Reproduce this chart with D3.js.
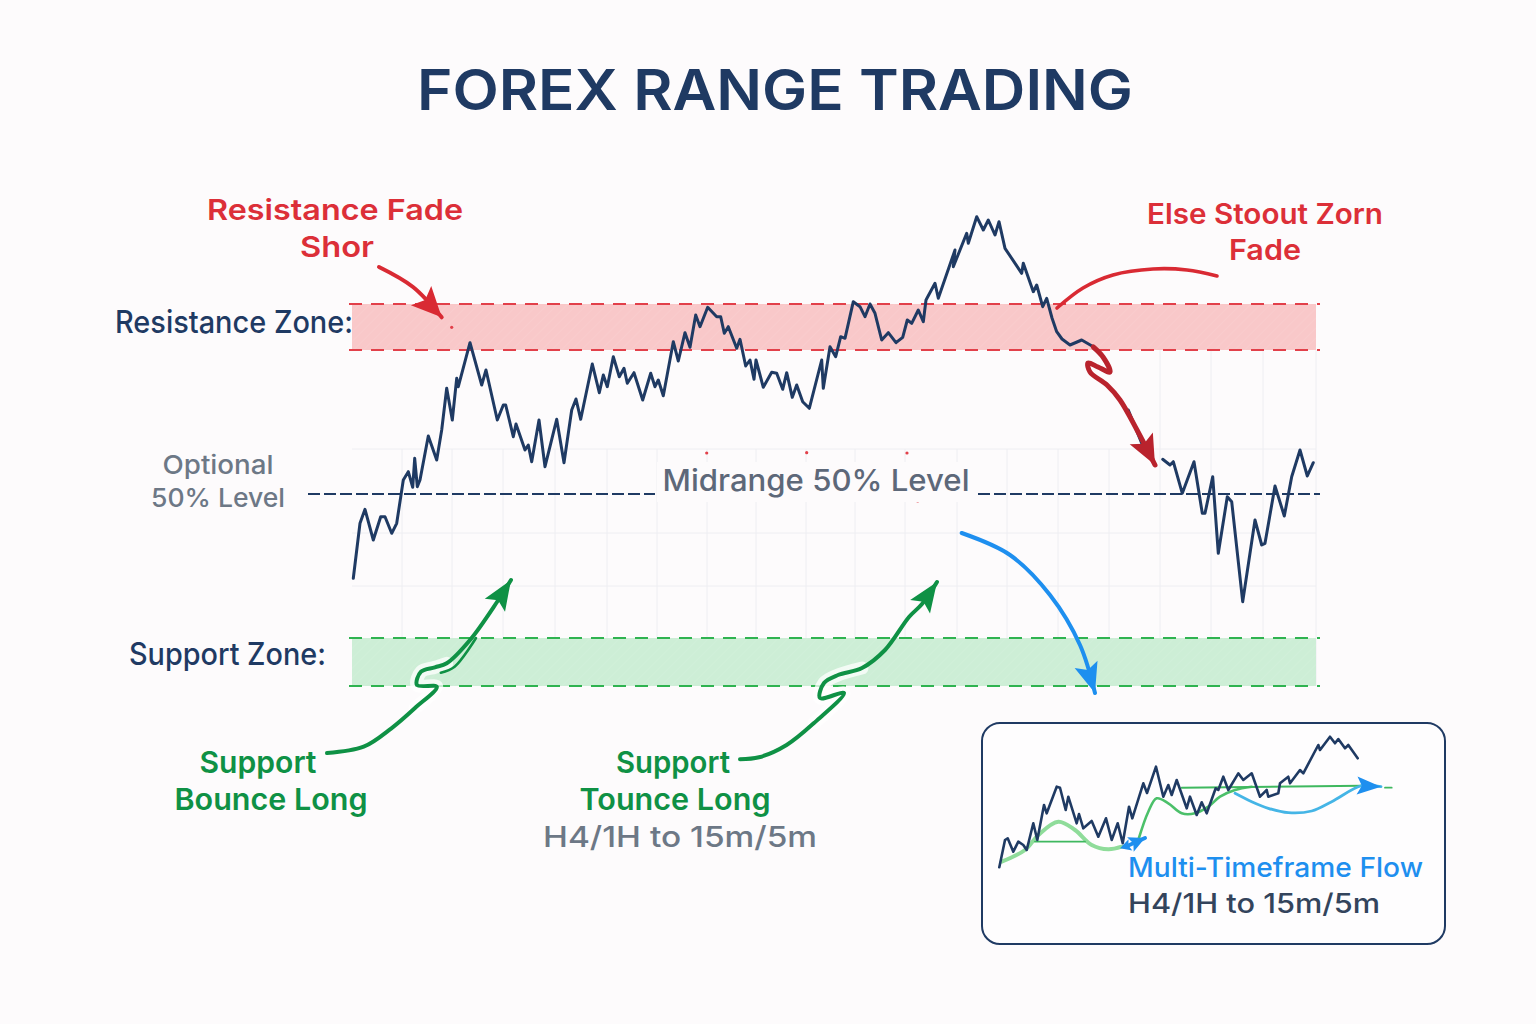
<!DOCTYPE html>
<html lang="en">
<head>
  <meta charset="UTF-8">
  <title>Forex Range Trading</title>
  <style>
    * { margin: 0; padding: 0; }
    body { background: #fdfbfc; }
    text { font-family: Inter, "Noto Sans", sans-serif; }
  </style>
  <script src="https://cdn.jsdelivr.net/npm/d3@7"></script>
</head>
<body>
  <svg id="mainsvg" style="display:block"></svg>
  <script>
    // price path, [time, price], null = pen lifted
    const priceLeft = [[13.3,121.7],[20,176.7],[25,190.7],[33.3,160],[40.7,183.3],[45,183.3],[51.7,166.7],[56.7,176.7],[63.3,220],[68.3,228.3],[72.7,212.7],[74.7,241.7],[77.3,213.3],[80,220],[88.3,264],[96.7,240],[101.7,270],[106.7,311.7],[112.3,280],[116.7,321.7],[118.3,313.3],[130,357.3],[141.7,315],[146,330],[157.3,280],[163.3,295],[165.7,295],[173.3,263.3],[176,276],[185,250],[188.3,255],[191.7,238.3],[199,280],[205,233.3],[216.7,280.7],[224,237.3],[231.7,290],[236,301],[240.7,280.7],[252.3,336],[259.3,307.3],[263.3,325],[267.3,313.3],[273.3,343.3],[279.3,323.3],[284,331.7],[287.3,316.7],[294,327.3],[302.7,300],[310.7,326.7],[315,313.3],[318.3,320],[323.3,304.3],[333.3,358.3],[338.3,339],[345,367.3],[350,352.7],[355.7,385],[360,373.3],[367.7,392.7],[376.7,383.3],[380.7,383.3],[384.3,366.7],[388.3,373.3],[396.7,351.7],[400,360.7],[405.7,334],[410,340],[414,320.7],[416,340],[423.3,312.7],[431.7,327.7],[436.7,326.7],[442.7,310.7],[446.7,327.3],[452.3,302.7],[456.7,315],[462.7,298.3],[469.3,291.7],[481.7,340],[483.3,311.7],[490,353.3],[495.7,343.3],[500.7,363.3],[505,361.7],[513.3,398.3],[520,393.3],[525,383.3],[530,396],[535,386.7],[541.7,360],[548.3,367.3],[556,357.3],[562.7,362.7],[567.3,380],[571.7,376.7],[578.3,390],[583.3,378.3],[586,400],[595,416.7],[598.3,401.7],[615,450],[613.3,433.3],[626.7,466.7],[628.3,456.7],[636.7,483.3],[643.3,470],[648.3,480],[655,465],[659,478.3],[665,451.7],[681.7,426.7],[683.3,436.7],[693.3,408.3],[696.7,415],[702.7,393.3],[706.7,401.7],[712,382],[716.7,368.3],[722,361],[730,355],[741.7,360],[753.3,353.3],[763,343],null,[788.3,290],[801.7,256.7],null,[822.7,240.7],[830,235],[833.3,238.3],[842.3,206.7],[854,238.3],[862.3,186.7],[865,186.7],[872.7,223.3],[878.3,146.7],[887.3,203.3],[891.7,198.3],[902.7,98.3],[915,180],[921.7,155],[925,156.7],[935,214],[944.3,184],[951.7,223.3],[960,250],[967.3,224],[973.3,237.3]]

    const resistanceZone = [350, 396]
    const supportZone = [14, 62]
    const midLevel = 206
    const gridTimes = [62,112,163,215,267,317,367,416,466,515,565,617,667,718,769,820,871,923,976]
    const gridPrices = [251,167,114]
    const specks = [[111.7,372.7],[366.7,247],[466.7,247.3],[567,247],[577.7,199]]

    // annotation arrows
    const redArrowLeft = [[39,433],[73,413],[101.7,382.7]]
    const redCurveRight = [[717,392],[743,412],[773,425],[813,431],[847,430],[877,424]]
    const redBreak = [[753.3,353],[763,343],[770,328],[758,333],[748,337],[750,328],[767,315],[780,300],[797,270],[815,235]]
    const blueArrow = [[621.7,167],[670,145],[710,105],[740,55],[755,7]]
    const greenArrowLeft = [[-13,-53],[23.7,-46.7],[51.4,-28.3],[75,-8],[96.8,13.3],[77,15],[81,28.3],[94.9,32.7],[106.7,36.7],[130,60],[157,98],[171,120]]
    const greenSecond = [[100.8,27.3],[114.6,33.3],[136,62]]
    const greenArrowMid = [[400,-59.3],[419,-57.3],[446.6,-45],[474,-23],[504,7],[480,2],[484,17],[498,25],[522,32],[545,50],[569,83],[582,96],[597,118]]

    // inset
    const insetPrice = [[24.3,87.7],[30,115],[32.7,116.7],[38.3,103.3],[43.3,113.3],[48.3,110],[51.7,105],[58.3,131.7],[62.3,115],[69,150],[71.7,141.7],[81.7,168.3],[85,167.3],[90.7,145],[93.3,158.3],[101.7,131.7],[104,141],[108.3,126.7],[116.7,134],[123.3,118.3],[131,136.7],[136.7,115],[142.7,131.7],[147.7,111.7],[154,148.3],[157.3,136.7],[168.3,171.7],[172,162],[181,188.3],[188.3,158.3],[193.3,170],[196.7,160],[201.7,175],[211.7,146.7],[215,158.3],[221.7,140],[226.7,152.7],[231.7,141.7],[240.7,166.7],[243.3,165],[248.3,178.3],[253.3,165],[263.3,181.7],[268.3,175],[276.7,181.7],[285,158.3],[291.7,165],[293.3,158.3],[303.3,161.7],[305,171.7],[313.3,178.3],[315,171.7],[325,185],[328.3,181.7],[343.3,210],[345,205],[355,218.3],[360,211.7],[363.3,216],[370,206.7],[373.3,210],[382.7,196.7]]
    const insetGreenA = [[26.7,93.3],[50,105],[63.3,120],[83.3,133.3],[100,125],[116.7,110],[133.3,105.7],[146.7,108.3]]
    const insetGreenB = [[163.3,115],[173.3,143.3],[181.7,156.7],[193.3,151.7],[206.7,141.7],[220,141.7],[233.3,148.3],[245,158.3],[260,165],[276.7,168.3]]
    const insetFlatA = [[60,113.3],[110,113.3]]
    const insetFlatB = [[206.7,167.3],[386.7,169.3]]
    const insetBlue = [[260,161.7],[276.7,153.3],[293.3,146.7],[313.3,142.3],[336.7,144],[356.7,153.3],[386.7,169.3],[406,168.3]]
    const insetTail = [[410,167.3],[416.7,167.3]]
    const insetArrowA = [[150,108],[170,117]]
    const insetArrowB = [[155,110],[145,106.7]]

    const navy = '#1f3a63', red = '#dc2f38', green = '#0f9145', blue = '#1e8fef', grey = '#5d6879'

    const width = 1536, height = 1024
    const svg = d3.select('#mainsvg').attr('width', width).attr('height', height)
    svg.append('rect').attr('width', width).attr('height', height).attr('fill', '#fdfbfc')

    const x = d3.scaleLinear().domain([0, 1000]).range([340, 1340])
    const y = d3.scaleLinear().domain([0, 500]).range([700, 200])
    const xi = d3.scaleLinear().domain([0, 480]).range([975, 1455])
    const yi = d3.scaleLinear().domain([0, 240]).range([955, 715])

    const curve = d3.curveCatmullRom.alpha(0.5)
    const mainLine = d3.line().defined(d => d).x(d => x(d[0])).y(d => y(d[1])).curve(curve)
    const priceLine = d3.line().defined(d => d).x(d => x(d[0])).y(d => y(d[1]))
    const insetLine = d3.line().x(d => xi(d[0])).y(d => yi(d[1])).curve(curve)
    const insetPriceLine = d3.line().x(d => xi(d[0])).y(d => yi(d[1]))

    const defs = svg.append('defs')
    const hatch = defs.append('pattern').attr('id', 'hatch').attr('width', 7).attr('height', 7)
      .attr('patternUnits', 'userSpaceOnUse').attr('patternTransform', 'rotate(45)')
    hatch.append('line').attr('x1', 0).attr('x2', 0).attr('y1', 0).attr('y2', 7)
      .attr('stroke', '#fff').attr('stroke-width', 1).attr('opacity', 0.14)

    // grid
    const grid = svg.append('g').attr('stroke', '#eeeef2').attr('stroke-width', 1)
    grid.selectAll('.v').data(gridTimes).join('line').attr('class', 'v')
      .attr('x1', d => x(d)).attr('x2', d => x(d))
      .attr('y1', d => d > 800 ? y(resistanceZone[0]) : y(gridPrices[0])).attr('y2', y(supportZone[0]))
    grid.selectAll('.h').data(gridPrices).join('line').attr('class', 'h')
      .attr('x1', x(12)).attr('x2', x(976)).attr('y1', d => y(d)).attr('y2', d => y(d))

    // zones
    function drawZone(zone, fill, stroke) {
      ['fill', 'url(#hatch)'].forEach((f, i) => {
        svg.append('rect').attr('x', x(12)).attr('width', x(976) - x(12))
          .attr('y', y(zone[1])).attr('height', y(zone[0]) - y(zone[1]))
          .attr('fill', i ? f : fill)
      })
      svg.selectAll(null).data(zone).join('line')
        .attr('x1', x(9)).attr('x2', x(980)).attr('y1', d => y(d)).attr('y2', d => y(d))
        .attr('stroke', stroke).attr('stroke-width', 1.8).attr('stroke-dasharray', '13 9')
    }
    drawZone(resistanceZone, '#f9c8c9', '#e2404a')
    drawZone(supportZone, '#cdeed6', '#2fb350')

    // midrange dashes, gap for the label
    svg.selectAll(null).data([[-32, 315], [638, 980]]).join('line')
      .attr('x1', d => x(d[0])).attr('x2', d => x(d[1]))
      .attr('y1', y(midLevel)).attr('y2', y(midLevel))
      .attr('stroke', navy).attr('stroke-width', 2).attr('stroke-dasharray', '12 4')

    svg.append('path').attr('d', priceLine(priceLeft)).attr('fill', 'none')
      .attr('stroke', navy).attr('stroke-width', 3).attr('stroke-linejoin', 'round').attr('stroke-linecap', 'round')

    svg.selectAll('.speck').data(specks).join('circle').attr('class', 'speck')
      .attr('cx', d => x(d[0])).attr('cy', d => y(d[1])).attr('r', 1.6).attr('fill', '#e2404a')

    // arrow head from the last two screen points
    function head(g, from, to, len, wid, color) {
      const a = Math.atan2(to[1] - from[1], to[0] - from[0])
      const bx = to[0] - len * Math.cos(a), by = to[1] - len * Math.sin(a)
      const nx = -Math.sin(a) * wid / 2, ny = Math.cos(a) * wid / 2
      const nBack = len * 0.8
      const p = [
        to,
        [bx + nx, by + ny],
        [to[0] - nBack * Math.cos(a), to[1] - nBack * Math.sin(a)],
        [bx - nx, by - ny]
      ]
      g.append('path').attr('d', d3.line()(p) + 'Z').attr('fill', color)
    }

    function arrow(pts, color, w, len, wid, halo) {
      const g = svg.append('g')
      if (halo) {
        g.append('path').attr('d', mainLine(pts.slice(3, 9))).attr('fill', 'none')
          .attr('stroke', '#fff').attr('stroke-width', 13).attr('opacity', 0.75).attr('stroke-linecap', 'round')
      }
      g.append('path').attr('d', mainLine(pts)).attr('fill', 'none').attr('stroke', color)
        .attr('stroke-width', w).attr('stroke-linejoin', 'round').attr('stroke-linecap', 'round')
      if (len) {
        const n = pts.length
        head(g, [x(pts[n - 2][0]), y(pts[n - 2][1])], [x(pts[n - 1][0]), y(pts[n - 1][1])], len, wid, color)
      }
    }
    arrow(redArrowLeft, '#d92a33', 4, 30, 28)
    arrow(redCurveRight, '#d92a33', 3.6)
    arrow(redBreak, '#b9232d', 5, 30, 26)
    arrow(blueArrow, blue, 4, 30, 24)
    arrow(greenArrowLeft, green, 4, 30, 24, true)
    arrow(greenSecond, green, 2.6)
    arrow(greenArrowMid, green, 4, 30, 24, true)

    // labels
    function label(str, x0, base, size, color, anchor, len, weight) {
      return svg.append('text').attr('x', x0).attr('y', base).attr('font-size', size)
        .attr('fill', color).attr('text-anchor', anchor || 'middle')
        .attr('font-weight', weight || 500)
        .attr('textLength', len).attr('lengthAdjust', 'spacingAndGlyphs').text(str)
    }
    svg.append('rect').attr('x', 657).attr('y', 462).attr('width', 318).attr('height', 40).attr('fill', '#fdfbfc')

    label('FOREX RANGE TRADING', 775, 110, 56, navy, 'middle', 716, 600)
    label('Resistance Fade', 335, 220, 29, red, 'middle', 256, 600)
    label('Shor', 337, 257, 29, red, 'middle', 74, 600)
    label('Else Stoout Zorn', 1265, 224, 28, red, 'middle', 236, 600)
    label('Fade', 1265, 260, 29, red, 'middle', 72, 600)
    label('Resistance Zone:', 115, 333, 31, navy, 'start', 238)
    label('Support Zone:', 129, 665, 31, navy, 'start', 197)
    label('Optional', 218, 474, 26, '#6d7886', 'middle', 111, 500)
    label('50% Level', 218, 507, 26, '#6d7886', 'middle', 134, 500)
    label('Midrange 50% Level', 816, 491, 30, grey, 'middle', 307)
    label('Support', 258, 773, 30, green, 'middle', 117, 600)
    label('Bounce Long', 271, 810, 30, green, 'middle', 193, 600)
    label('Support', 673, 773, 30, green, 'middle', 114, 600)
    label('Tounce Long', 675, 810, 30, green, 'middle', 191, 600)
    label('H4/1H to 15m/5m', 680, 847, 29, '#6d7886', 'middle', 274, 500)

    // inset panel
    svg.append('rect').attr('x', 982).attr('y', 723).attr('width', 463).attr('height', 221)
      .attr('rx', 18).attr('fill', '#fefdfe').attr('stroke', navy).attr('stroke-width', 2)

    function insetPath(pts, color, w, gen) {
      svg.append('path').attr('d', (gen || insetLine)(pts)).attr('fill', 'none').attr('stroke', color)
        .attr('stroke-width', w).attr('stroke-linejoin', 'round').attr('stroke-linecap', 'round')
    }
    insetPath(insetGreenA, '#8fdc9a', 4)
    insetPath(insetGreenB, '#4cc06a', 2.6)
    insetPath(insetFlatA, '#3fb85f', 1.8)
    insetPath(insetFlatB, '#3fb85f', 2)
    insetPath(insetBlue, '#45b5e6', 2.8)
    insetPath(insetTail, '#3fb85f', 1.8)
    insetPath(insetPrice, navy, 2.6, insetPriceLine)

    const headOf = (a, b, len, wid) => head(svg, [xi(a[0]), yi(a[1])], [xi(b[0]), yi(b[1])], len, wid, blue)
    headOf(insetBlue[6], insetBlue[7], 24, 18)
    insetPath(insetArrowA, blue, 4)
    headOf(insetArrowA[0], insetArrowA[1], 16, 16)
    headOf(insetArrowB[0], insetArrowB[1], 11, 12)

    label('Multi-Timeframe Flow', 1128, 877, 27, blue, 'start', 295)
    label('H4/1H to 15m/5m', 1128, 913, 27, '#33445c', 'start', 252, 500)
  </script>
</body>
</html>
